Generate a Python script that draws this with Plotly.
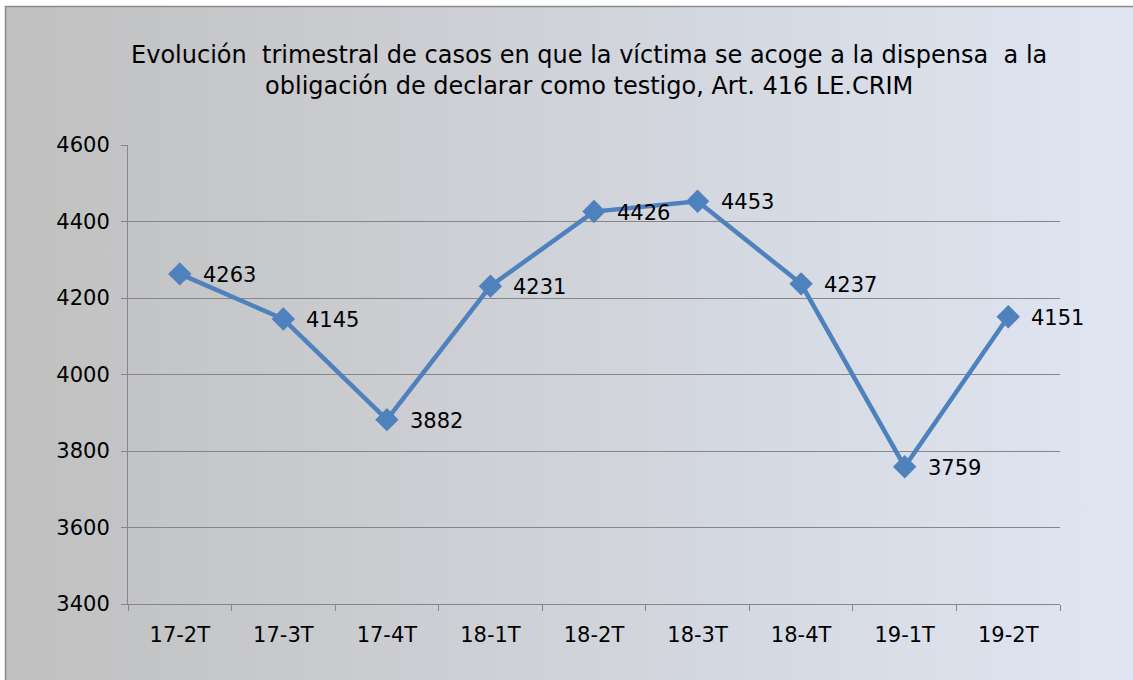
import base64
import plotly.graph_objects as go

# data
quarters = ["17-2T", "17-3T", "17-4T", "18-1T", "18-2T", "18-3T", "18-4T", "19-1T", "19-2T"]
cases = [4263, 4145, 3882, 4231, 4426, 4453, 4237, 3759, 4151]

title_text = ("Evolución\u00a0 trimestral de casos en que la víctima se acoge a la dispensa\u00a0 a la"
              "<br>obligación de declarar como testigo, Art. 416 LE.CRIM")

W, H = 1133, 680
ML, MR, MT, MB = 128, 73, 145, 76

# background gradient (gray -> light blue) as an inline svg
svg = (
    '<svg xmlns="http://www.w3.org/2000/svg" width="1133" height="680" viewBox="0 0 1133 680" '
    'preserveAspectRatio="none">'
    '<defs><linearGradient id="g" x1="0" y1="0" x2="1" y2="0">'
    '<stop offset="0" stop-color="#c0c0c0"/>'
    '<stop offset="1" stop-color="#e0e6f3"/>'
    '</linearGradient></defs>'
    '<rect x="5" y="6" width="1140" height="690" fill="url(#g)"/>'
    '</svg>'
)
bg_src = "data:image/svg+xml;base64," + base64.b64encode(svg.encode()).decode()

pw = W - ML - MR
ph = H - MT - MB

fig = go.Figure()
fig.add_trace(go.Scatter(
    x=quarters, y=cases, mode="lines+markers",
    line=dict(color="#4f81bd", width=4.5),
    marker=dict(symbol="diamond", size=18, color="#4f81bd"),
    hoverinfo="x+y", showlegend=False,
))

for q, v in zip(quarters, cases):
    fig.add_annotation(x=q, y=v, text=str(v), showarrow=False,
                       xanchor="left", yanchor="middle", xshift=21, yshift=-1,
                       font=dict(family="DejaVu Sans, Verdana", size=21, color="#000000"))

# outer chart border
fig.add_shape(type="rect", xref="paper", yref="paper", layer="below",
              x0=(5.5 - ML) / pw, x1=(W + 20 - ML) / pw,
              y0=-(MB + 20) / ph, y1=1 + (MT - 6.5) / ph,
              line=dict(color="#8c8c8c", width=1.5), fillcolor="rgba(0,0,0,0)")

fig.update_layout(
    width=W, height=H,
    margin=dict(l=ML, r=MR, t=MT, b=MB),
    paper_bgcolor="#ffffff",
    plot_bgcolor="rgba(0,0,0,0)",
    font=dict(family="DejaVu Sans, Verdana", size=21, color="#000000"),
    title=dict(text=title_text, x=0.52, xanchor="center", y=0.907, yanchor="top",
               font=dict(size=24, color="#000000")),
    images=[dict(source=bg_src, xref="paper", yref="paper",
                 x=-ML / pw, y=1 + MT / ph, sizex=W / pw, sizey=H / ph,
                 xanchor="left", yanchor="top", sizing="stretch", layer="below")],
)

fig.update_xaxes(
    type="category", range=[-0.5, len(quarters) - 0.5],
    showgrid=False, showline=True, linecolor="#868686", linewidth=1,
    ticks="outside", tickson="boundaries", ticklen=6, tickcolor="#868686",
    tickfont=dict(size=21), zeroline=False, ticklabelstandoff=12,
)
fig.update_yaxes(
    range=[3400, 4600], dtick=200, showgrid=True, gridcolor="#868686", gridwidth=1,
    showline=True, linecolor="#868686", linewidth=1,
    ticks="outside", ticklen=6, tickcolor="#868686",
    tickfont=dict(size=21), zeroline=False, ticklabelstandoff=7,
)

fig.write_html("out.html", config={"displayModeBar": False},
               post_script="document.body.style.margin='0px';")
